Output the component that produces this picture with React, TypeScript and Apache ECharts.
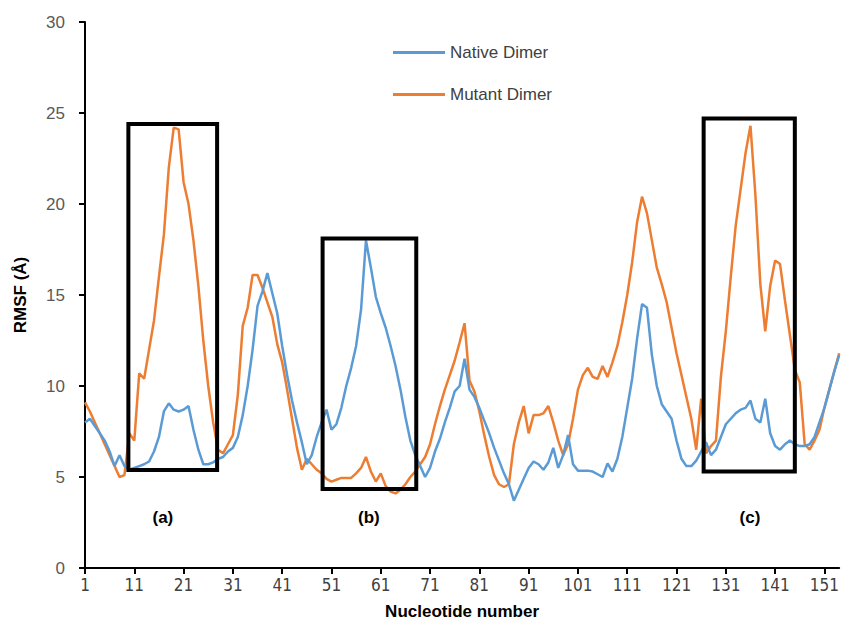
import React, { useEffect, useRef } from "react";
import * as echarts from "echarts";

const nucleotides: string[] = [];
for (let i = 1; i <= 154; i++) nucleotides.push(String(i));

const nativeDimer: number[] = [
  8.0, 8.2, 7.8, 7.4, 7.0, 6.4, 5.6, 6.2, 5.6, 5.4,
  5.5, 5.6, 5.7, 5.85, 6.4, 7.2, 8.6, 9.05, 8.7, 8.6,
  8.7, 8.9, 7.6, 6.5, 5.7, 5.7, 5.8, 6.0, 6.1, 6.4,
  6.6, 7.2, 8.4, 10.0, 12.0, 14.4, 15.2, 16.2, 15.1, 14.0,
  12.2, 10.6, 9.2, 8.0, 6.9, 5.7, 6.2, 7.2, 8.0, 8.7,
  7.6, 7.9, 8.8, 10.0, 11.0, 12.2, 14.2, 18.0, 16.5, 14.9,
  14.0, 13.2, 12.2, 11.1, 9.8, 8.3, 7.0, 6.2, 5.6, 5.0,
  5.5, 6.4, 7.1, 8.0, 8.8, 9.7, 10.0, 11.5, 9.8, 9.4,
  8.8, 8.1, 7.4, 6.6, 5.9, 5.2, 4.6, 3.7, 4.3, 4.9,
  5.5, 5.85, 5.7, 5.4, 5.8, 6.6, 5.5, 6.2, 7.3, 5.7,
  5.35, 5.35, 5.35, 5.3, 5.15, 5.0, 5.75, 5.3, 6.0, 7.2,
  8.8, 10.4, 12.6, 14.5, 14.3, 11.7, 10.0, 9.0, 8.6, 8.2,
  7.0, 6.0, 5.6, 5.6, 5.9, 6.4, 6.9, 6.2, 6.5, 7.2,
  7.9, 8.2, 8.5, 8.7, 8.8, 9.2, 8.2, 8.0, 9.3, 7.4,
  6.7, 6.5, 6.8, 7.0, 6.8, 6.7, 6.7, 6.8, 7.2, 8.0,
  8.8, 9.8, 10.8, 11.7
];

const mutantDimer: number[] = [
  9.1, 8.6, 8.0, 7.4, 6.8, 6.2, 5.6, 5.0, 5.1, 7.4,
  7.0, 10.7, 10.4, 12.0, 13.6, 16.0, 18.3, 22.0, 24.2, 24.1,
  21.2, 20.0, 18.0, 15.5, 12.5, 10.0, 8.0, 6.5, 6.3, 6.8,
  7.3, 9.5, 13.3, 14.3, 16.1, 16.1, 15.4, 14.6, 13.8, 12.3,
  11.3, 9.8, 8.2, 6.6, 5.4, 6.0, 5.7, 5.4, 5.2, 4.9,
  4.75, 4.85, 4.95, 4.95, 4.95, 5.2, 5.5, 6.1, 5.3, 4.75,
  5.2, 4.5, 4.2, 4.1, 4.3, 4.6, 5.0, 5.3, 5.7, 6.1,
  6.8, 7.9, 8.9, 9.8, 10.6, 11.4, 12.4, 13.45, 10.3, 9.7,
  8.6, 7.3, 6.1, 5.1, 4.6, 4.45, 4.6, 6.8, 8.0, 8.9,
  7.4, 8.4, 8.4, 8.5, 8.9, 8.0, 7.0, 6.2, 6.8, 8.2,
  9.8, 10.6, 11.0, 10.5, 10.4, 11.1, 10.5, 11.3, 12.2, 13.5,
  15.0, 16.8, 19.0, 20.4, 19.5, 18.0, 16.5, 15.6, 14.6, 13.2,
  11.8, 10.6, 9.4, 8.2, 6.5, 9.3, 6.3, 6.7, 7.0, 10.5,
  13.0, 16.0, 18.8, 20.8, 22.8, 24.3, 20.5, 15.6, 13.0, 15.5,
  16.9, 16.7, 14.7, 12.8, 10.9, 10.2, 6.8, 6.5, 7.0, 7.6,
  8.8, 9.8, 10.8, 11.8
];

const yTicks = { min: 0, max: 30, interval: 5 };

// Annotation boxes in data space (nucleotide number, RMSF)
const boxLabels = ["(a)", "(b)", "(c)"];
const boxStart = [9.8, 49.2, 126.5];
const boxEnd = [27.8, 68.2, 145.0];
const boxBottom = [5.38, 4.34, 5.3];
const boxTop = [24.4, 18.1, 24.7];
const labelX = [16.8, 58.6, 135.9];
const labelY = [2.8, 2.8, 2.8];

export default function App() {
  const ref = useRef<HTMLDivElement>(null);

  useEffect(() => {
    if (!ref.current) return;
    const chart = echarts.init(ref.current, undefined, { renderer: "svg" });
    const option: any = {
      animation: false,
      backgroundColor: "#ffffff",
      grid: { left: 85, right: 0, top: 22, bottom: 65, containLabel: false },
      legend: {
        orient: "vertical",
        left: 388,
        top: 39,
        itemGap: 25,
        itemWidth: 52,
        itemHeight: 3,
        icon: "rect",
        textStyle: {
          fontFamily: "Liberation Sans, Arial, sans-serif",
          fontSize: 17,
          color: "#404040",
          padding: [0, 0, 0, 0],
        },
        data: ["Native Dimer", "Mutant Dimer"],
      },
      xAxis: {
        type: "category",
        data: nucleotides,
        boundaryGap: false,
        name: "Nucleotide number",
        nameLocation: "middle",
        nameGap: 35,
        nameTextStyle: {
          fontFamily: "Liberation Sans, Arial, sans-serif",
          fontWeight: "bold",
          fontSize: 17,
          color: "#000000",
        },
        axisLine: { lineStyle: { color: "#000000", width: 2 } },
        axisTick: {
          interval: 9,
          length: 6,
          lineStyle: { color: "#000000", width: 2 },
        },
        axisLabel: {
          interval: 9,
          margin: 8,
          fontFamily: "Liberation Sans Narrow, DejaVu Sans Condensed, Arial, sans-serif",
          fontSize: 17,
          color: "#404040",
        },
        splitLine: { show: false },
      },
      yAxis: {
        type: "value",
        min: yTicks.min,
        max: yTicks.max,
        interval: yTicks.interval,
        name: "RMSF (Å)",
        nameLocation: "middle",
        nameGap: 56,
        nameRotate: 90,
        nameTextStyle: {
          fontFamily: "Liberation Sans, Arial, sans-serif",
          fontWeight: "bold",
          fontSize: 17,
          color: "#000000",
        },
        axisLine: { show: true, lineStyle: { color: "#000000", width: 2 } },
        axisTick: { show: true, length: 6, lineStyle: { color: "#000000", width: 2 } },
        axisLabel: {
          margin: 20,
          fontFamily: "Liberation Sans, Arial, sans-serif",
          fontSize: 17,
          color: "#595959",
        },
        splitLine: { show: false },
      },
      series: [
        {
          name: "Native Dimer",
          type: "line",
          data: nativeDimer,
          showSymbol: false,
          symbol: "none",
          lineStyle: { color: "#5B9BD5", width: 2.5 },
          itemStyle: { color: "#5B9BD5" },
          z: 3,
        },
        {
          name: "Mutant Dimer",
          type: "line",
          data: mutantDimer,
          showSymbol: false,
          symbol: "none",
          lineStyle: { color: "#ED7D31", width: 2.5 },
          itemStyle: { color: "#ED7D31" },
          z: 2,
        },
      ],
    };
    chart.setOption(option);

    const x0 = chart.convertToPixel({ xAxisIndex: 0 }, 0) as number;
    const x1 = chart.convertToPixel({ xAxisIndex: 0 }, 1) as number;
    const px = (n: number) => x0 + (n - 1) * (x1 - x0);
    const py = (v: number) => chart.convertToPixel({ yAxisIndex: 0 }, v) as number;

    const elements: any[] = [];
    boxLabels.forEach((lab, i) => {
      const l = px(boxStart[i]);
      const r = px(boxEnd[i]);
      const t = py(boxTop[i]);
      const b = py(boxBottom[i]);
      elements.push({
        type: "rect",
        shape: { x: l, y: t, width: r - l, height: b - t },
        style: { fill: "none", stroke: "#000000", lineWidth: 4 },
        z: 10,
      });
      elements.push({
        type: "text",
        x: px(labelX[i]),
        y: py(labelY[i]),
        style: {
          text: lab,
          fontFamily: "Liberation Sans, Arial, sans-serif",
          fontWeight: "bold",
          fontSize: 17,
          fill: "#000000",
          align: "center",
          verticalAlign: "middle",
        },
        z: 10,
      });
    });
    chart.setOption({ graphic: elements });

    return () => chart.dispose();
  }, []);

  return (
    <div
      ref={ref}
      style={{ position: "fixed", left: 0, top: 0, width: 842, height: 633, background: "#fff" }}
    />
  );
}
